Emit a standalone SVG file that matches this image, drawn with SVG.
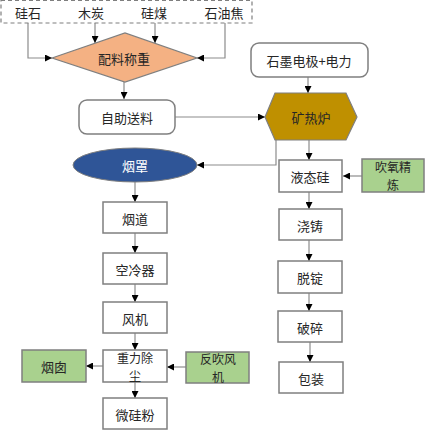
<svg xmlns="http://www.w3.org/2000/svg" width="425" height="431" viewBox="0 0 425 431">
<defs>
<style>
text{font-family:"Noto Sans CJK SC","Liberation Sans",sans-serif;font-size:13px;fill:#262626;text-anchor:middle;dominant-baseline:central}
.two{font-size:12px}
.box{fill:#fff;stroke:#7f7f7f;stroke-width:1.5}
.green{fill:#a9d18e;stroke:#7f7f7f;stroke-width:1.5}
.line{fill:none;stroke:#8c8c8c;stroke-width:1.2;marker-end:url(#ah)}
</style>
<marker id="ah" viewBox="0 0 10 10" refX="10" refY="5" markerWidth="7" markerHeight="7" markerUnits="userSpaceOnUse" orient="auto">
<path d="M0,0 L10,5 L0,10 z" fill="#000"/>
</marker>
</defs>
<rect width="425" height="431" fill="#fff"/>
<g id="connectors">
<path class="line" d="M28,23 V58 H52"/>
<path class="line" d="M95,23 V43"/>
<path class="line" d="M155,23 V43"/>
<path class="line" d="M225,23 V58 H197"/>
<path class="line" d="M124,82 V99"/>
<path class="line" d="M175,117 H265"/>
<path class="line" d="M308,77 V93"/>
<path class="line" d="M276,140 V165 H197"/>
<path class="line" d="M309,140 V160"/>
<path class="line" d="M362,176 H343"/>
<path class="line" d="M309,192 V209"/>
<path class="line" d="M309,240 V261"/>
<path class="line" d="M309,293 V311"/>
<path class="line" d="M310,342 V362"/>
<path class="line" d="M135,182 V202"/>
<path class="line" d="M135,233 V253"/>
<path class="line" d="M135,284 V302"/>
<path class="line" d="M135,333 V350"/>
<path class="line" d="M135,382 V398"/>
<path class="line" d="M103,366 H86"/>
<path class="line" d="M186,367 H167"/>
</g>
<g id="raw-materials">
<rect x="1" y="0.5" width="251" height="22.5" fill="none" stroke="#7f7f7f" stroke-width="1.2" stroke-dasharray="4,3"/>
<text x="28" y="12">硅石</text>
<text x="91" y="12">木炭</text>
<text x="154" y="12">硅煤</text>
<text x="224" y="12">石油焦</text>
</g>
<g id="peiliao">
<polygon points="52,58 125,33 197,58 125,82" fill="#f4b183" stroke="#7f7f7f" stroke-width="1.2"/>
<text x="124" y="58">配料称重</text>
</g>
<g id="zizhu">
<rect class="box" x="79" y="100" width="96" height="34" rx="8"/>
<text x="127" y="117">自助送料</text>
</g>
<g id="shimo">
<rect class="box" x="251" y="43" width="117" height="34" rx="8"/>
<text x="309" y="60">石墨电极+电力</text>
</g>
<g id="kuangre">
<polygon points="265,117 275,93 346,93 357,117 346,140 275,140" fill="#bf9000" stroke="#7f7f7f" stroke-width="1.2"/>
<text x="311" y="117">矿热炉</text>
</g>
<g id="yanzhao">
<ellipse cx="135" cy="165" rx="62" ry="17" fill="#2f5597" stroke="#7f7f7f" stroke-width="1"/>
<text x="135" y="165" style="fill:#fff">烟罩</text>
</g>
<g id="yetaigui">
<rect class="box" x="279" y="160" width="63" height="32"/>
<text x="310" y="176">液态硅</text>
</g>
<g id="chuiyang">
<rect class="green" x="362" y="159" width="62" height="33"/>
<text class="two" x="393" y="166.75">吹氧精<tspan x="393" dy="17.5">炼</tspan></text>
</g>
<g id="jiaozhu">
<rect class="box" x="279" y="209" width="63" height="31"/>
<text x="310" y="225">浇铸</text>
</g>
<g id="tuoding">
<rect class="box" x="278" y="261" width="64" height="32"/>
<text x="310" y="277">脱锭</text>
</g>
<g id="posui">
<rect class="box" x="278" y="311" width="64" height="31"/>
<text x="310" y="327">破碎</text>
</g>
<g id="baozhuang">
<rect class="box" x="279" y="362" width="64" height="31"/>
<text x="311" y="378">包装</text>
</g>
<g id="yandao">
<rect class="box" x="103" y="202" width="64" height="31"/>
<text x="135" y="218">烟道</text>
</g>
<g id="konglengqi">
<rect class="box" x="103" y="253" width="64" height="31"/>
<text x="135" y="269">空冷器</text>
</g>
<g id="fengji">
<rect class="box" x="103" y="302" width="64" height="31"/>
<text x="135" y="318">风机</text>
</g>
<g id="zhongli">
<rect class="box" x="103" y="350" width="64" height="32"/>
<text class="two" x="135" y="357.25">重力除<tspan x="135" dy="17.5">尘</tspan></text>
</g>
<g id="weiguifen">
<rect class="box" x="103" y="398" width="64" height="31"/>
<text x="135" y="414">微硅粉</text>
</g>
<g id="yancong">
<rect class="green" x="22" y="350" width="64" height="32"/>
<text x="54" y="366">烟囱</text>
</g>
<g id="fanchui">
<rect class="green" x="186" y="352" width="63" height="31"/>
<text class="two" x="218" y="358.75">反吹风<tspan x="218" dy="17.5">机</tspan></text>
</g>
</svg>
